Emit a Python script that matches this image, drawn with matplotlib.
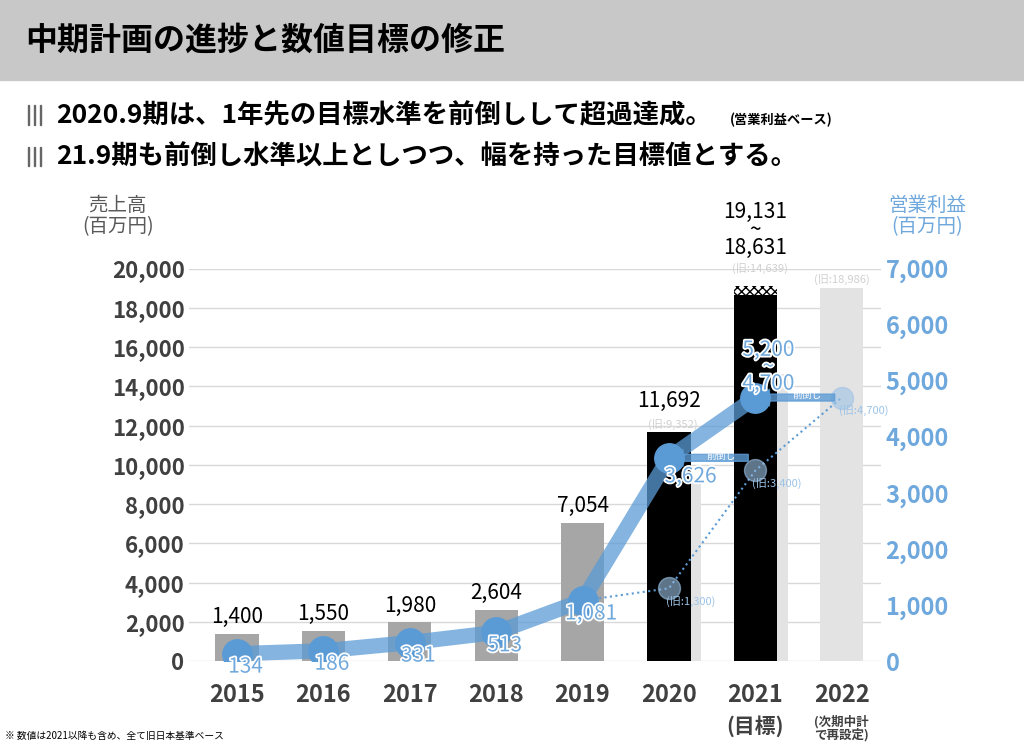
import matplotlib
matplotlib.use("Agg")
import matplotlib.pyplot as plt
import matplotlib.patheffects as pe
import numpy as np

plt.rcParams["font.family"] = "Noto Sans CJK JP"

years = ["2015", "2016", "2017", "2018", "2019", "2020", "2021", "2022"]
sales = [1400, 1550, 1980, 2604, 7054, 11692, 18631, None]
sales_upper_2021 = 19131
old_sales = [None, None, None, None, None, 9352, 14639, 18986]
profit = [134, 186, 331, 513, 1081, 3626, 4700]
profit_upper_2021 = 5200
old_profit = [None, None, None, None, 1081, 1300, 3400, 4700]

BLUE = "#5b9bd5"
AXBLUE = "#6fa8dc"
halo = [pe.withStroke(linewidth=2.5, foreground="white")]

fig = plt.figure(figsize=(10.24, 7.48), dpi=100)
# header band
fig.patches.append(plt.Rectangle((0, 0.893), 1, 0.107, transform=fig.transFigure,
                                 color="#c8c8c8", zorder=0))
fig.text(0.025, 0.945, "中期計画の進捗と数値目標の修正", fontsize=23, fontweight="bold",
         va="center")
for yy in (0.845, 0.790):
    for k in range(3):
        fig.patches.append(plt.Rectangle((0.027 + k * 0.006, yy - 0.012), 0.0015, 0.026,
                                         transform=fig.transFigure, color="#666666"))
fig.text(0.055, 0.845, "2020.9期は、1年先の目標水準を前倒しして超過達成。", fontsize=19,
         fontweight="bold", va="center")
fig.text(0.713, 0.840, "(営業利益ベース)", fontsize=9.5, fontweight="bold", va="center")
fig.text(0.055, 0.790, "21.9期も前倒し水準以上としつつ、幅を持った目標値とする。", fontsize=19,
         fontweight="bold", va="center")
fig.text(0.005, 0.012, "※ 数値は2021以降も含め、全て旧日本基準ベース", fontsize=7)

ax = fig.add_axes([0.185, 0.116, 0.675, 0.525])
ax2 = ax.twinx()
x = np.arange(len(years))
w = 0.5

# old plan bars (behind, shifted right)
for i, v in enumerate(old_sales):
    if v is None:
        continue
    if i == 7:
        ax.bar(x[i], v, w, color="#e3e3e3", zorder=1)
        lx, ly = x[i], v + 150
    else:
        ax.bar(x[i] + 0.25, v, w * 0.5, color="#e3e3e3", zorder=1)
        lx, ly = x[i] + 0.05, (sales[i] if i == 5 else 19600) + 100
    ax.text(lx, ly, f"(旧:{v:,})", ha="center", va="bottom", fontsize=8,
            color="#d0d0d0", zorder=6)

for i, v in enumerate(sales):
    if v is None:
        continue
    c = "#a6a6a6" if i < 5 else "black"
    ax.bar(x[i], v, w, color=c, zorder=2)
    if i < 6:
        ax.text(x[i], v + (1000 if i == 5 else 300), f"{v:,}", ha="center", va="bottom",
                fontsize=15, zorder=6)
ax.bar(x[6], sales_upper_2021 - sales[6], w, bottom=sales[6], color="white",
       edgecolor="black", hatch="xxxx", lw=0, zorder=2)
ax.text(x[6], 20500, f"{sales_upper_2021:,}\n~\n{sales[6]:,}", ha="center", va="bottom",
        fontsize=15, linespacing=0.75)

ax.set_xlim(-0.55, 7.45)
ax.set_ylim(0, 20000)
ax.set_yticks(range(0, 20001, 2000))
ax.set_yticklabels([f"{v:,}" for v in range(0, 20001, 2000)], fontsize=16,
                   fontweight="bold", color="#404040")
ax.set_xticks(x)
ax.set_xticklabels(years, fontsize=17, fontweight="bold", color="#404040")
ax.tick_params(axis="x", pad=16)
ax.grid(axis="y", color="#d9d9d9", lw=1, zorder=0)
ax.set_axisbelow(True)
for s in ax.spines.values():
    s.set_visible(False)
for s in ax2.spines.values():
    s.set_visible(False)
ax.tick_params(length=0)
ax2.tick_params(length=0)
ax.text(x[6], -2750, "(目標)", ha="center", va="top", fontsize=15, fontweight="bold",
        color="#404040")
ax.text(x[7], -2750, "(次期中計\nで再設定)", ha="center", va="top", fontsize=9,
        fontweight="bold", color="#404040", linespacing=0.9)
fig.text(0.115, 0.69, "売上高\n(百万円)", fontsize=14, color="#595959", ha="center",
         linespacing=1.0)
fig.text(0.905, 0.69, "営業利益\n(百万円)", fontsize=14, color=AXBLUE, ha="center",
         linespacing=1.0)

ax2.set_ylim(0, 7000)
ax2.set_yticks(range(0, 7001, 1000))
ax2.set_yticklabels([f"{v:,}" for v in range(0, 7001, 1000)], fontsize=17,
                    fontweight="bold", color=AXBLUE)

# old profit plan (dotted)
ox = [i for i, v in enumerate(old_profit) if v is not None]
oy = [v for v in old_profit if v is not None]
ax2.plot(ox, oy, ":", color=BLUE, lw=1.5, zorder=3)
ax2.scatter(ox[1:], oy[1:], s=250, color="#9dc3e6", alpha=0.6, zorder=3)
for i, v in zip(ox[1:], oy[1:]):
    ax2.text(i + 0.25, v - 230, f"(旧:{v:,})", fontsize=8, color="#9dc3e6", ha="center",
             va="center", zorder=6)

# actual profit
ax2.plot(x[:7], profit, color=BLUE, lw=11, alpha=0.75, solid_capstyle="round", zorder=4)
ax2.scatter(x[:7], profit, s=450, color=BLUE, zorder=5)
for i, v in enumerate(profit[:6]):
    dy = -230 if i < 5 else -330
    ax2.text(x[i] + (0.1 if i < 5 else 0.25), v + dy, f"{v:,}", ha="center",
             va="center", fontsize=15, color=AXBLUE, zorder=6, path_effects=halo)
ax2.text(x[6] + 0.15, 5250, f"{profit_upper_2021:,}\n~\n{profit[6]:,}", ha="center",
         va="center", fontsize=15, color=AXBLUE, linespacing=0.7, zorder=6,
         path_effects=halo)
# "前倒し" arrows
for xs, xe, yv in [(5.95, 5.05, 3626), (6.95, 6.05, 4700)]:
    ax2.annotate("", xy=(xe, yv), xytext=(xs, yv),
                 arrowprops=dict(arrowstyle="simple,head_width=1.2,tail_width=0.5",
                                 color="#5b9bd5", alpha=0.8), zorder=6)
    ax2.text((xs + xe) / 2 + 0.1, yv + 40, "前倒し", fontsize=7, color="white",
             ha="center", va="center", zorder=7)

fig.savefig("out.png", dpi=100)
